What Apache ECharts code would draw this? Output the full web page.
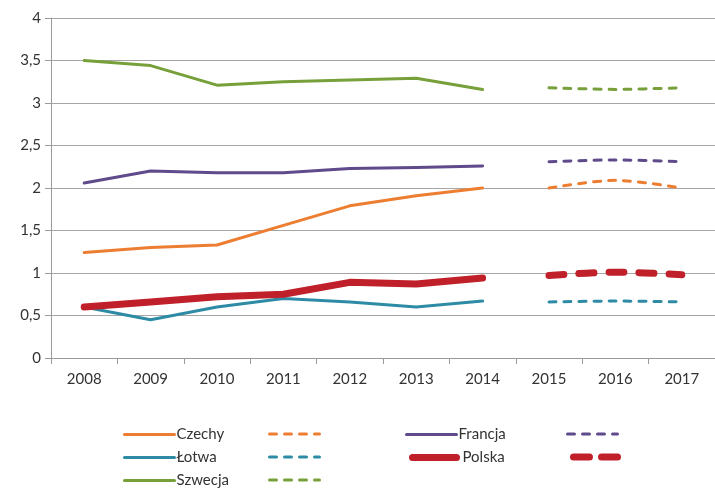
<!DOCTYPE html>
<html><head><meta charset="utf-8">
<script src="https://cdn.jsdelivr.net/npm/echarts@6/dist/echarts.min.js"></script>
<style>html,body{margin:0;padding:0;background:#fff}#c{width:715px;height:491px}</style>
</head><body><div id="c"></div>
<script>
const years = ['2008','2009','2010','2011','2012','2013','2014','2015','2016','2017'];
const yTicks = [0,0.5,1,1.5,2,2.5,3,3.5,4];
const czechy   = [1.24,1.30,1.33,1.56,1.79,1.91,2.00,null,null,null];
const czechyP  = [null,null,null,null,null,null,null,2.00,2.09,2.00];
const francja  = [2.06,2.20,2.18,2.18,2.23,2.24,2.26,null,null,null];
const francjaP = [null,null,null,null,null,null,null,2.31,2.33,2.31];
const lotwa    = [0.60,0.45,0.60,0.70,0.66,0.60,0.67,null,null,null];
const lotwaP   = [null,null,null,null,null,null,null,0.66,0.67,0.66];
const polska   = [0.60,0.66,0.72,0.75,0.89,0.87,0.94,null,null,null];
const polskaP  = [null,null,null,null,null,null,null,0.97,1.01,0.98];
const szwecja  = [3.50,3.44,3.21,3.25,3.27,3.29,3.16,null,null,null];
const szwecjaP = [null,null,null,null,null,null,null,3.18,3.16,3.18];

const C = {cz:'#ED7D31', fr:'#5F4B8B', lv:'#2E8BA5', pl:'#C0202A', se:'#77A03A'};
const font = 'Lato, "Open Sans", sans-serif';
const DASH = [7,8], DASH_PL = [15,15];

function solid(name, data, color, w) {
  return {name, type:'line', data, symbol:'none', connectNulls:false,
    lineStyle:{color, width:w||3, cap:'round', join:'round'}, itemStyle:{color}, z: w?5:3};
}
function dashed(name, data, color, w, dash) {
  return {name, type:'line', data, symbol:'none', smooth:0.3, connectNulls:false,
    lineStyle:{color, width:w||3, type:dash||DASH, cap:'round'}, itemStyle:{color}, z: w?5:3};
}
const series = [
  solid('Czechy', czechy, C.cz), dashed('Czechy_p', czechyP, C.cz),
  solid('Francja', francja, C.fr), dashed('Francja_p', francjaP, C.fr),
  solid('Łotwa', lotwa, C.lv), dashed('Łotwa_p', lotwaP, C.lv),
  solid('Polska', polska, C.pl, 7), dashed('Polska_p', polskaP, C.pl, 7, DASH_PL),
  solid('Szwecja', szwecja, C.se), dashed('Szwecja_p', szwecjaP, C.se)
];
function lg(name, left, top, w, dash, iw, pad) {
  return {data:[name], left, top, itemWidth:iw||50, itemHeight:14, itemGap:0,
    formatter: n => n.endsWith('_p') ? '' : n,
    itemStyle:{opacity:0},
    lineStyle:{width:w||3, type:dash||'solid', cap:'round'},
    textStyle:{fontFamily:font, fontSize:15, color:'#333', padding:[0,0,0,pad==null?-3:pad]}, padding:0};
}
const legends = [
  lg('Czechy',123,427), lg('Czechy_p',268,427,3,DASH),
  lg('Francja',405,427), lg('Francja_p',566,427,3,DASH),
  lg('Łotwa',123,450), lg('Łotwa_p',268,450,3,DASH),
  lg('Polska',409,450,7,null,44,1), lg('Polska_p',570,450,7,[16,12],44),
  lg('Szwecja',123,473), lg('Szwecja_p',268,473,3,DASH)
];
const chart = echarts.init(document.getElementById('c'));
chart.setOption({
  animation:false,
  grid:{left:51, right:-5, top:18, bottom:133, containLabel:false},
  legend: legends,
  xAxis:{type:'category', data:years, boundaryGap:true,
    axisLine:{lineStyle:{color:'#9a9a9a', width:1}},
    axisTick:{show:true, length:6, lineStyle:{color:'#9a9a9a'}},
    axisLabel:{fontFamily:font, fontSize:15, color:'#333', margin:14}},
  yAxis:{type:'value', min:yTicks[0], max:yTicks[yTicks.length-1], interval:0.5,
    axisLine:{show:true, lineStyle:{color:'#9a9a9a'}},
    axisTick:{show:true, length:6, lineStyle:{color:'#9a9a9a'}},
    splitLine:{lineStyle:{color:'#a6a6a6', width:1}},
    axisLabel:{fontFamily:font, fontSize:15, color:'#333', margin:10,
      formatter: v => String(v).replace('.', ',')}},
  series
});
</script></body></html>
